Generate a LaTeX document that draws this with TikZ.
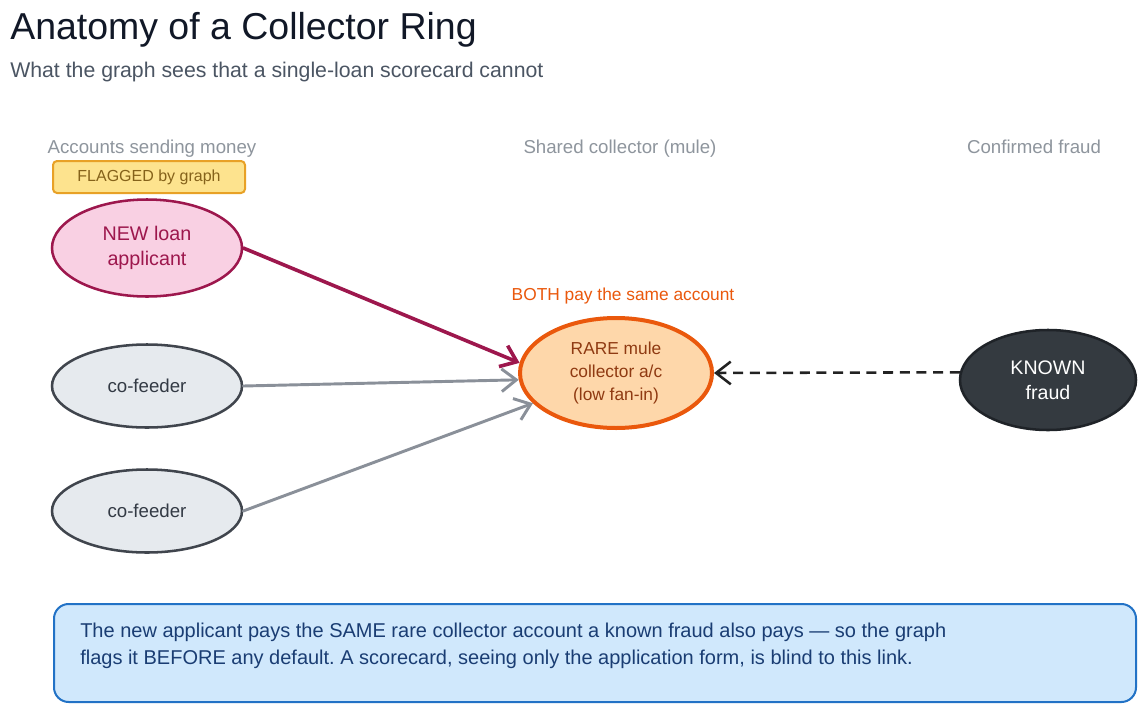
\documentclass[tikz,border=0pt]{standalone}
\usepackage{fontspec}
\setmainfont{Liberation Sans}
\usepackage{xcolor}
\usepackage{tikz}
\usetikzlibrary{shapes.geometric, arrows.meta}
\frenchspacing

\definecolor{inkTitle}{HTML}{111827}
\definecolor{inkSub}{HTML}{4B5563}
\definecolor{headGray}{HTML}{8E959D}
\definecolor{flagFill}{HTML}{FDE38E}
\definecolor{flagRim}{HTML}{E8A126}
\definecolor{flagInk}{HTML}{85621A}
\definecolor{newFill}{HTML}{F9D0E3}
\definecolor{newRim}{HTML}{9D174D}
\definecolor{feedFill}{HTML}{E6EAEE}
\definecolor{feedRim}{HTML}{40454D}
\definecolor{feedInk}{HTML}{333A44}
\definecolor{feedLine}{HTML}{8A9099}
\definecolor{muleFill}{HTML}{FED7AA}
\definecolor{muleRim}{HTML}{EA580C}
\definecolor{muleInk}{HTML}{8F3A12}
\definecolor{fraudFill}{HTML}{343A40}
\definecolor{fraudRim}{HTML}{1F2328}
\definecolor{linkInk}{HTML}{222222}
\definecolor{noteFill}{HTML}{D0E8FC}
\definecolor{noteRim}{HTML}{2272C6}
\definecolor{noteInk}{HTML}{1A3D73}

\begin{document}
\begin{tikzpicture}[
    x=0.75pt, y=-0.75pt,
    font=\fontsize{14}{18}\selectfont,
    colhead/.style={anchor=base, text=headGray, font=\fontsize{14}{18}\selectfont},
    flagbox/.style={rectangle, rounded corners=3pt, draw=flagRim, line width=1.5pt, fill=flagFill, text=flagInk, minimum width=144pt, minimum height=24pt, font=\fontsize{12}{15}\selectfont},
    acct/.style={ellipse, inner sep=0pt, align=center, line width=1.9pt},
    newnode/.style={acct, draw=newRim, fill=newFill, text=newRim, minimum width=142.5pt, minimum height=72.75pt, font=\fontsize{14.8}{18.75}\selectfont},
    feeder/.style={acct, draw=feedRim, fill=feedFill, text=feedInk, minimum width=142.5pt, minimum height=62.25pt, font=\fontsize{14}{18}\selectfont},
    mulenode/.style={acct, draw=muleRim, line width=3pt, fill=muleFill, text=muleInk, minimum width=144pt, minimum height=82.5pt, font=\fontsize{13}{17}\selectfont},
    fraudnode/.style={acct, draw=fraudRim, fill=fraudFill, text=white, minimum width=132pt, minimum height=75pt, font=\fontsize{14.7}{18.75}\selectfont},
    notebox/.style={rectangle, rounded corners=11pt, draw=noteRim, line width=1.5pt, fill=noteFill, minimum width=811.5pt, minimum height=73.5pt},
    payflow/.style={-{Straight Barb[length=11pt,width=17pt]}, line width=2.7pt, line cap=round, draw=newRim},
    feedflow/.style={-{Straight Barb[length=11pt,width=17pt]}, line width=2.2pt, line cap=round, draw=feedLine},
    linkflow/.style={-{Straight Barb[length=11pt,width=17pt]}, line width=1.9pt, dash pattern=on 7.5pt off 5pt, draw=linkInk}
]

\useasboundingbox (0,0) rectangle (1142,707);
\fill[white] (0,0) rectangle (1142,707);

% Title
\node[anchor=base west, inner sep=0pt, text=inkTitle, font=\fontsize{28.1}{32}\selectfont] (title) at (10,39) {Anatomy of a Collector Ring};
\node[anchor=base west, inner sep=0pt, text=inkSub, font=\fontsize{15.95}{19}\selectfont] (subtitle) at (10,77) {What the graph sees that a single-loan scorecard cannot};

% Column headers
\node[colhead] (hsend) at (152,153) {Accounts sending money};
\node[colhead] (hmule) at (620,153) {Shared collector (mule)};
\node[colhead] (hfraud) at (1034,153) {Confirmed fraud};

% Senders
\node[flagbox] (flag) at (149,177) {FLAGGED by graph};
\node[newnode] (newapp) at (147,248) {NEW loan\\applicant};
\node[feeder] (feedA) at (147,386) {co-feeder};
\node[feeder] (feedB) at (147,511) {co-feeder};

% Collector and known fraud
\node[anchor=base, text=muleRim, font=\fontsize{13}{16}\selectfont] (both) at (623,300) {BOTH pay the same account};
\node[mulenode] (mule) at (616,373) {RARE mule\\collector a/c\\(low fan-in)};
\node[fraudnode] (known) at (1048,380) {KNOWN\\fraud};

% Connectors
\draw[payflow] (newapp.east) -- (mule.174);
\draw[feedflow] (feedA.east) -- (mule.184);
\draw[feedflow] (feedB.east) -- (mule.200);
\draw[linkflow] (known.175) -- (mule.east);

% Bottom note
\node[notebox] (note) at (595,653) {};
\node[anchor=west, inner sep=0pt, align=left, text=noteInk, font=\fontsize{15}{20}\selectfont] (notetext) at (80,646) {The new applicant pays the SAME rare collector account a known fraud also pays --- so the graph\\flags it BEFORE any default. A scorecard, seeing only the application form, is blind to this link.};

\end{tikzpicture}
\end{document}
